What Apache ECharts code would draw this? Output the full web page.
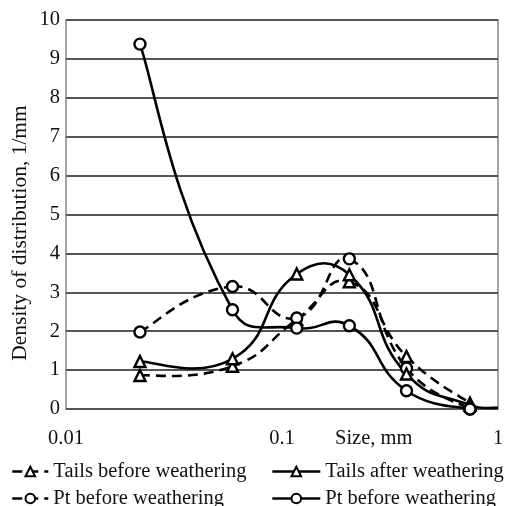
<!DOCTYPE html>
<html>
<head>
<meta charset="utf-8">
<script src="https://cdn.jsdelivr.net/npm/echarts@6/dist/echarts.min.js"></script>
<style>html,body{margin:0;padding:0;background:#fff;}#c{width:510px;height:506px;}</style>
</head>
<body>
<div id="c"></div>
<script>
var sizes = [0.022, 0.059, 0.117, 0.205, 0.377, 0.742];
var tailsBefore = [0.86, 1.1, 2.3, 3.27, 1.35, 0.15];
var tailsAfter = [1.22, 1.29, 3.47, 3.45, 0.9, 0.1];
var ptBeforeDashed = [1.98, 3.15, 2.34, 3.86, 1.05, 0.0];
var ptBeforeSolid = [9.38, 2.55, 2.08, 2.14, 0.47, 0.0];
var endSize = 1.0, endValue = 0.03;
var yTicks = [0, 1, 2, 3, 4, 5, 6, 7, 8, 9, 10];
var xTicks = [0.01, 0.1, 1];
var labels = {
  tb: 'Tails before weathering',
  ta: 'Tails after weathering',
  pd: 'Pt before weathering',
  ps: 'Pt before weathering'
};

function pairs(xs, ys) { return xs.map(function (x, i) { return [x, ys[i]]; }); }

var font = 'Liberation Serif';
var S = 0.5; // smoothing strength
var chart = echarts.init(document.getElementById('c'));

function dist(a, b) { return Math.sqrt((a[0] - b[0]) * (a[0] - b[0]) + (a[1] - b[1]) * (a[1] - b[1])); }
function clampX(c, xa, xb) { c[0] = Math.max(Math.min(xa, xb), Math.min(Math.max(xa, xb), c[0])); return c; }
// control points around point i (incoming, outgoing), weighted by segment lengths
function ctrl(pts, i) {
  var p = pts[i], pr = pts[i - 1], nx = pts[i + 1];
  if (!pr) return { out: [p[0] + (nx[0] - p[0]) * S / 3, p[1] + (nx[1] - p[1]) * S / 3] };
  if (!nx) return { inc: [p[0] - (p[0] - pr[0]) * S / 3, p[1] - (p[1] - pr[1]) * S / 3] };
  var vx = nx[0] - pr[0], vy = nx[1] - pr[1];
  var lp = dist(p, pr), ln = dist(p, nx);
  var tot = lp + ln || 1;
  var rn = ln / tot, rp = lp / tot;
  return {
    inc: clampX([p[0] - vx * S * rp, p[1] - vy * S * rp], pr[0], p[0]),
    out: clampX([p[0] + vx * S * rn, p[1] + vy * S * rn], p[0], nx[0])
  };
}
function curve(key, d, dashed) {
  return {
    name: key + '_curve', type: 'custom', data: [0], z: 2, silent: true,
    renderItem: function (params, api) {
      var pts = d.map(function (p) { return api.coord(p); });
      var children = [];
      for (var i = 0; i < pts.length - 1; i++) {
        var a = ctrl(pts, i), b = ctrl(pts, i + 1);
        children.push({
          type: 'bezierCurve',
          shape: {
            x1: pts[i][0], y1: pts[i][1], x2: pts[i + 1][0], y2: pts[i + 1][1],
            cpx1: a.out[0], cpy1: a.out[1], cpx2: b.inc[0], cpy2: b.inc[1]
          },
          style: { stroke: '#000', fill: null, lineWidth: 2.6, lineDash: dashed ? [10, 6] : null }
        });
      }
      return { type: 'group', children: children };
    }
  };
}
function marks(key, d, sym, dashed) {
  return {
    name: key, type: 'line', data: d,
    symbol: sym, symbolSize: 11, showAllSymbol: true,
    lineStyle: { color: '#000', width: 0, type: dashed ? [10, 6] : 'solid' },
    itemStyle: { color: '#fff', borderColor: '#000', borderWidth: 2.4 },
    emphasis: { disabled: true }, z: 3
  };
}
var dTB = pairs(sizes, tailsBefore);
var dTA = pairs(sizes, tailsAfter);
var dPD = pairs(sizes, ptBeforeDashed);
var dPS = pairs(sizes, ptBeforeSolid);
var dTAcurve = dTA.concat([[endSize, endValue]]);
var dTAmarks = dTA.concat([{ value: [endSize, endValue], symbol: 'none' }]);

function legendOf(left, w, names) {
  return {
    left: left, top: 456, height: 100, orient: 'vertical', itemWidth: w, itemHeight: 12, itemGap: 6,
    textStyle: { fontFamily: font, fontSize: 20.5, color: '#111' },
    lineStyle: { width: 2.6 },
    formatter: function (n) { return labels[n]; },
    selectedMode: false, data: names
  };
}
chart.setOption({
  animation: false,
  backgroundColor: '#fff',
  grid: { left: 66, right: 12, top: 20, bottom: 97, show: true, borderColor: '#888', borderWidth: 1.5, backgroundColor: 'transparent' },
  xAxis: {
    type: 'log', logBase: 10, min: xTicks[0], max: xTicks[xTicks.length - 1],
    axisLine: { show: false }, axisTick: { show: false },
    splitLine: { show: false },
    axisLabel: { fontFamily: font, fontSize: 20.5, color: '#111', margin: 19,
      formatter: function (v) { return String(v); } }
  },
  yAxis: {
    type: 'value', min: yTicks[0], max: yTicks[yTicks.length - 1], interval: 1,
    axisLine: { show: false }, axisTick: { show: false },
    splitLine: { lineStyle: { color: '#555', width: 2 } },
    axisLabel: { fontFamily: font, fontSize: 20.5, color: '#111', margin: 6 }
  },
  graphic: [
    { type: 'text', left: 335, top: 428,
      style: { text: 'Size, mm', fontFamily: font, fontSize: 20.5, fill: '#111' } },
    { type: 'text', x: 20, y: 233, rotation: Math.PI / 2,
      style: { text: 'Density of distribution, 1/mm', fontFamily: font, fontSize: 21.5, fill: '#111',
        align: 'center', verticalAlign: 'middle' } }
  ],
  legend: [legendOf(6, 36, ['tb', 'pd']), legendOf(266, 48, ['ta', 'ps'])],
  series: [
    curve('tb', dTB, true), curve('pd', dPD, true), curve('ta', dTAcurve, false), curve('ps', dPS, false),
    marks('tb', dTB, 'triangle', true),
    marks('pd', dPD, 'circle', true),
    marks('ta', dTAmarks, 'triangle', false),
    marks('ps', dPS, 'circle', false)
  ]
});
</script>
</body>
</html>
